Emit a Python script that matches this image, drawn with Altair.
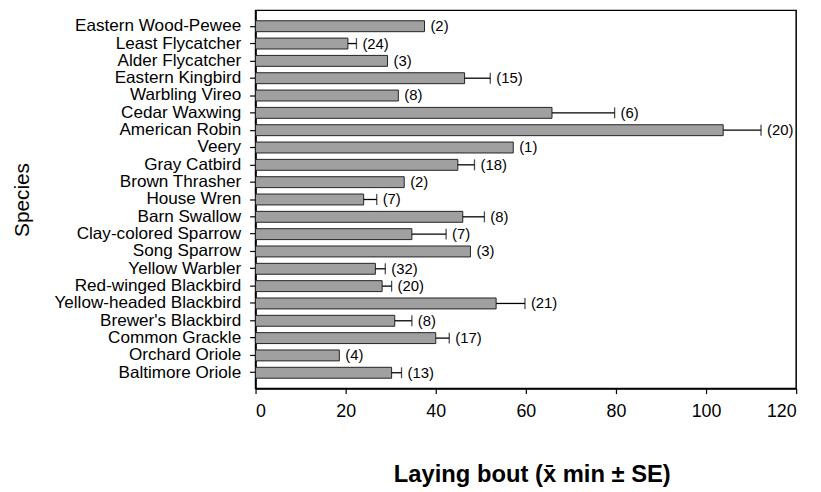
import altair as alt
import pandas as pd

species = [
    "Eastern Wood-Pewee", "Least Flycatcher", "Alder Flycatcher", "Eastern Kingbird",
    "Warbling Vireo", "Cedar Waxwing", "American Robin", "Veery", "Gray Catbird",
    "Brown Thrasher", "House Wren", "Barn Swallow", "Clay-colored Sparrow",
    "Song Sparrow", "Yellow Warbler", "Red-winged Blackbird", "Yellow-headed Blackbird",
    "Brewer's Blackbird", "Common Grackle", "Orchard Oriole", "Baltimore Oriole",
]
means = [37.5, 20.5, 29.3, 46.4, 31.7, 65.8, 103.8, 57.2, 44.9, 33.0, 24.0,
         46.0, 34.7, 47.7, 26.6, 28.1, 53.4, 30.9, 40.0, 18.6, 30.2]
ses = [0, 1.9, 0, 5.7, 0, 13.9, 8.4, 0, 3.7, 0, 2.9,
       4.8, 7.6, 0, 2.2, 2.1, 6.4, 3.8, 3.0, 0, 2.2]
ns = [2, 24, 3, 15, 8, 6, 20, 1, 18, 2, 7, 8, 7, 3, 32, 20, 21, 8, 17, 4, 13]
x_ticks = [0, 20, 40, 60, 80, 100, 120]

df = pd.DataFrame({"species": species, "mean": means, "se": ses, "n": ns})
df["hi"] = df["mean"] + df["se"]
df["label"] = "(" + df["n"].astype(str) + ")"

FONT = "Liberation Sans"

y_axis = alt.Axis(
    title="Species", titleFontSize=21, titleFontWeight="normal", titleFont=FONT,
    titleAngle=-90, titleX=-229, titleY=191, titleAlign="center",
    titleBaseline="alphabetic", titleColor="black",
    labelFontSize=17.3, labelFont=FONT, labelPadding=9, tickSize=6, labelLimit=400,
    labelColor="black", tickColor="black", domainColor="black",
)
y_scale = alt.Scale(paddingInner=0.37, paddingOuter=0.6)
y_main = alt.Y("species:N", sort=species, scale=y_scale, axis=y_axis)
y_plain = alt.Y("species:N", sort=species, bandPosition=0.5)

x_axis = alt.Axis(
    values=x_ticks, title="Laying bout (x\u0304 min \u00b1 SE)", titleFontSize=24,
    titleFontWeight="bold", titleFont=FONT, titleY=94, titleX=279, titleColor="black",
    titleBaseline="alphabetic", labelFontSize=18, labelFont=FONT, labelPadding=9,
    tickSize=5, grid=False, labelColor="black", tickColor="black", domainColor="black",
)
x_scale = alt.Scale(domain=[0, 120], nice=False)

base = alt.Chart(df)

bars = base.mark_bar(fill="#a0a0a0", stroke="#222222", strokeWidth=1).encode(
    x=alt.X("mean:Q", scale=x_scale, axis=x_axis),
    y=y_main,
)
whisk = base.transform_filter("datum.se > 0").mark_rule(color="black", strokeWidth=1.3).encode(
    x="mean:Q", x2="hi:Q", y=y_plain,
)
caps = base.transform_filter("datum.se > 0").mark_tick(
    orient="vertical", size=11, thickness=1.3, color="black"
).encode(x="hi:Q", y=alt.Y("species:N", sort=species))
labels = base.mark_text(
    align="left", baseline="middle", dx=6, fontSize=15, font=FONT, color="black"
).encode(x="hi:Q", y=y_plain, text="label:N")

chart = (
    alt.layer(bars, whisk, caps, labels)
    .properties(
        width=546, height=382,
        autosize=alt.AutoSizeParams(type="none"),
        padding={"left": 250, "top": 0, "right": 17, "bottom": 100},
        background="white",
    )
    .configure_view(stroke="black", strokeWidth=1.5)
    .configure_axis(domainWidth=1.5, tickWidth=1.2)
)

chart.save("out.html", embed_options={"renderer": "svg", "actions": False})
